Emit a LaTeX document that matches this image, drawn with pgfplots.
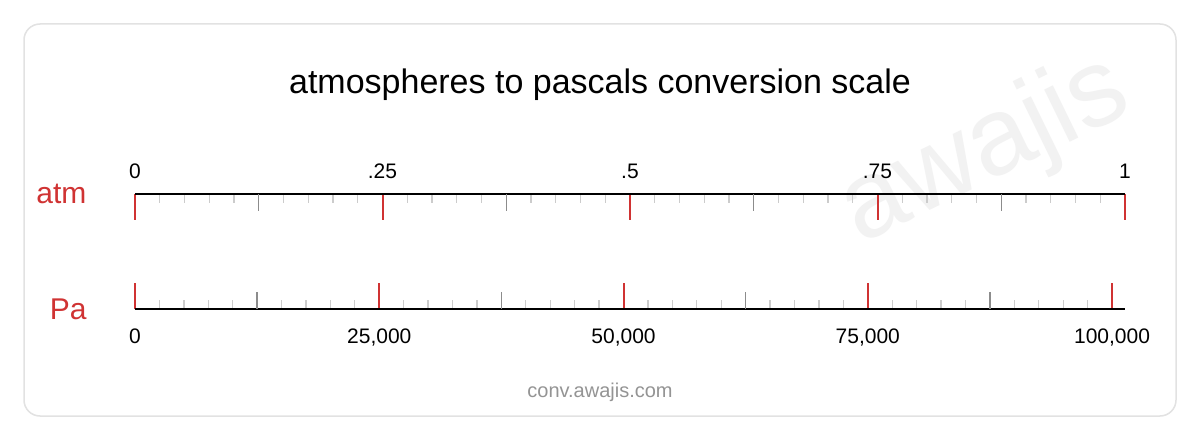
\documentclass[border=0pt]{standalone}
\usepackage{fontspec}
\setmainfont{Liberation Sans}
\usepackage{pgfplots}
\pgfplotsset{compat=1.18}

\definecolor{scalered}{HTML}{D03333}
\definecolor{minorgray}{HTML}{CCCCCC}
\definecolor{midgray}{HTML}{8C8C8C}
\definecolor{cardline}{HTML}{E2E2E2}

% one horizontal scale: red labelled major ticks, gray mid ticks, light minor ticks
\pgfplotsset{
  scalebar/.style={
    scale only axis,
    width=990pt, height=20pt,
    ymin=0, ymax=1,
    hide y axis,
    axis line style={black, line width=2pt},
    tick align=inside,
    major tick length=26pt,
    minor tick length=9pt,
    every major tick/.style={scalered, line width=2pt},
    every minor tick/.style={minorgray, line width=1.3pt},
    every extra x tick/.style={major tick length=17pt},
    extra x tick style={every major tick/.style={midgray, line width=1.4pt}},
    extra x tick labels={},
    minor x tick num=9,
    xticklabel style={font=\fontsize{21}{21}\selectfont, text=black},
    clip=false,
  },
}

\begin{document}
\begin{tikzpicture}
\fill[white] (0pt,0pt) rectangle (1200pt,440pt);
\draw[cardline, line width=1.5pt, rounded corners=16pt, fill=white]
  (24pt,24pt) rectangle (1176pt,416pt);

% watermark
\node[text=black!5, rotate=26, font=\fontsize{110}{110}\selectfont] at (985pt,288pt) {awajis};

\node[font=\fontsize{34}{34}\selectfont] at (600pt,355pt) {atmospheres to pascals conversion scale};
\node[text=black!42, font=\fontsize{20}{20}\selectfont] at (600pt,48pt) {conv.awajis.com};

\node[anchor=east, text=scalered, font=\fontsize{30}{30}\selectfont] at (90pt,246pt) {atm};
\node[anchor=east, text=scalered, font=\fontsize{30}{30}\selectfont] at (90pt,131pt) {Pa};

% atmospheres
\begin{axis}[scalebar,
  at={(135pt,246pt)}, anchor=north west,
  axis x line*=top,
  xmin=0, xmax=1,
  xtick={0,0.25,0.5,0.75,1},
  xticklabels={0,.25,.5,.75,1},
  extra x ticks={0.125,0.375,0.625,0.875},
  xticklabel style={yshift=12pt},
]
\addplot[draw=none] coordinates {(0,0) (1,0)};
\end{axis}

% pascals, 1 atm = 101325 Pa
\begin{axis}[scalebar,
  at={(135pt,131pt)}, anchor=south west,
  axis x line*=bottom,
  xmin=0, xmax=101325,
  xtick={0,25000,50000,75000,100000},
  xticklabels={0,{25,000},{50,000},{75,000},{100,000}},
  extra x ticks={12500,37500,62500,87500},
  scaled x ticks=false,
  xticklabel style={yshift=-16pt},
]
\addplot[draw=none] coordinates {(0,0) (101325,0)};
\end{axis}
\end{tikzpicture}
\end{document}
